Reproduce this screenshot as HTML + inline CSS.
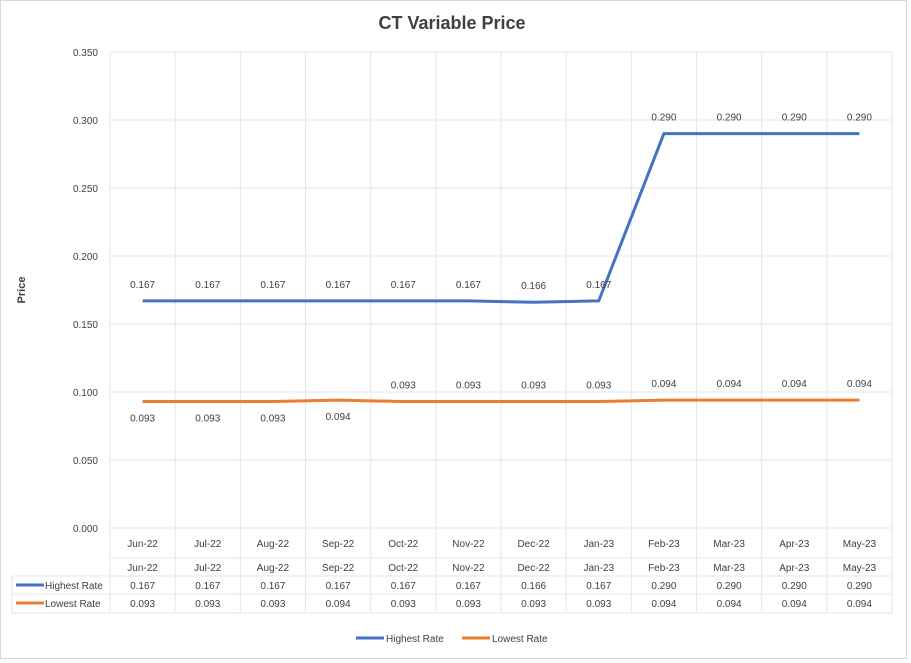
<!DOCTYPE html>
<html><head><meta charset="utf-8"><style>
html,body{margin:0;padding:0;background:#fff;}
svg{display:block;font-family:"Liberation Sans",sans-serif;}
</style></head><body>
<svg id="c" width="911" height="663" xmlns="http://www.w3.org/2000/svg">
<rect x="0.5" y="0.5" width="906" height="658" fill="#fff" stroke="#d9d9d9"/>
<text x="452" y="29" text-anchor="middle" font-size="18" font-weight="bold" fill="#404040">CT Variable Price</text>
<text x="25" y="290" text-anchor="middle" font-size="11" font-weight="bold" fill="#404040" transform="rotate(-90 25 290)">Price</text>
<g id="grid"></g><g id="marks"></g><g id="table"></g>
<g>
<line x1="356" y1="638" x2="384" y2="638" stroke="#4472c4" stroke-width="3"/>
<text x="386" y="642" font-size="10" fill="#404040">Highest Rate</text>
<line x1="462" y1="638" x2="490" y2="638" stroke="#ed7d31" stroke-width="3"/>
<text x="492" y="642" font-size="10" fill="#404040">Lowest Rate</text>
</g>
</svg>
<script>
const categories=["Jun-22","Jul-22","Aug-22","Sep-22","Oct-22","Nov-22","Dec-22","Jan-23","Feb-23","Mar-23","Apr-23","May-23"];
const highest=[0.167,0.167,0.167,0.167,0.167,0.167,0.166,0.167,0.290,0.290,0.290,0.290];
const lowest=[0.093,0.093,0.093,0.094,0.093,0.093,0.093,0.093,0.094,0.094,0.094,0.094];
const lowBelow=[true,true,true,true,false,false,false,false,false,false,false,false];
const yTicks=[0,0.05,0.1,0.15,0.2,0.25,0.3,0.35];
const NS="http://www.w3.org/2000/svg";
const L=110,R=892,T=52,B=528,yMax=0.35;
const bw=(R-L)/categories.length;
const xC=i=>L+bw*(i+0.5);
const yS=v=>B-(v/yMax)*(B-T);
function mk(p,tag,a,txt){const e=document.createElementNS(NS,tag);for(const k in a)e.setAttribute(k,a[k]);if(txt!=null)e.textContent=txt;p.appendChild(e);return e;}
const grid=document.getElementById('grid'),marks=document.getElementById('marks'),tbl=document.getElementById('table');
yTicks.forEach(t=>{const y=yS(t);
const l=mk(grid,'line',{x1:L,x2:R,y1:y,y2:y,stroke:'#e3e6ec'});


const tx=mk(grid,'text',{x:98,y:y+4,'text-anchor':'end','font-size':10,fill:'#404040'},t.toFixed(3));

});
for(let i=0;i<=categories.length;i++){const x=L+bw*i;
const l=mk(grid,'line',{x1:x,x2:x,y1:T,y2:613,stroke:'#e3e6ec'});

}
categories.forEach((c,i)=>{const t=mk(grid,'text',{x:xC(i),y:547,'text-anchor':'middle','font-size':10,fill:'#404040'},c);

});
function series(vals,color,name,labelY){
const p=mk(marks,'polyline',{points:vals.map((v,i)=>xC(i)+','+yS(v)).join(' '),fill:'none',stroke:color,'stroke-width':3,'stroke-linejoin':'round'});


vals.forEach((v,i)=>{const t=mk(marks,'text',{x:xC(i),y:labelY(v,i),'text-anchor':'middle','font-size':10,fill:'#404040'},v.toFixed(3));

});}
series(highest,'#4472c4','highest-rate',(v)=>yS(v)-13);
series(lowest,'#ed7d31','lowest-rate',(v,i)=>lowBelow[i]?yS(v)+20:yS(v)-13);
// data table
[558,576,594,613].forEach(y=>{const l=mk(tbl,'line',{x1:y===558?L:12,x2:R,y1:y,y2:y,stroke:'#e3e6ec'});

});
const lv=mk(tbl,'line',{x1:12,x2:12,y1:576,y2:613,stroke:'#e3e6ec'});


categories.forEach((c,i)=>{const t=mk(tbl,'text',{x:xC(i),y:571,'text-anchor':'middle','font-size':10,fill:'#404040'},c);

});
[[highest,'#4472c4','Highest Rate',589],[lowest,'#ed7d31','Lowest Rate',607]].forEach(([vals,col,nm,y])=>{
const sw=mk(tbl,'line',{x1:16,x2:44,y1:y-4,y2:y-4,stroke:col,'stroke-width':3});


const h=mk(tbl,'text',{x:45,y:y,'font-size':10,fill:'#404040'},nm);


vals.forEach((v,i)=>{const t=mk(tbl,'text',{x:xC(i),y:y,'text-anchor':'middle','font-size':10,fill:'#404040'},v.toFixed(3));

});});
</script>
</body></html>
